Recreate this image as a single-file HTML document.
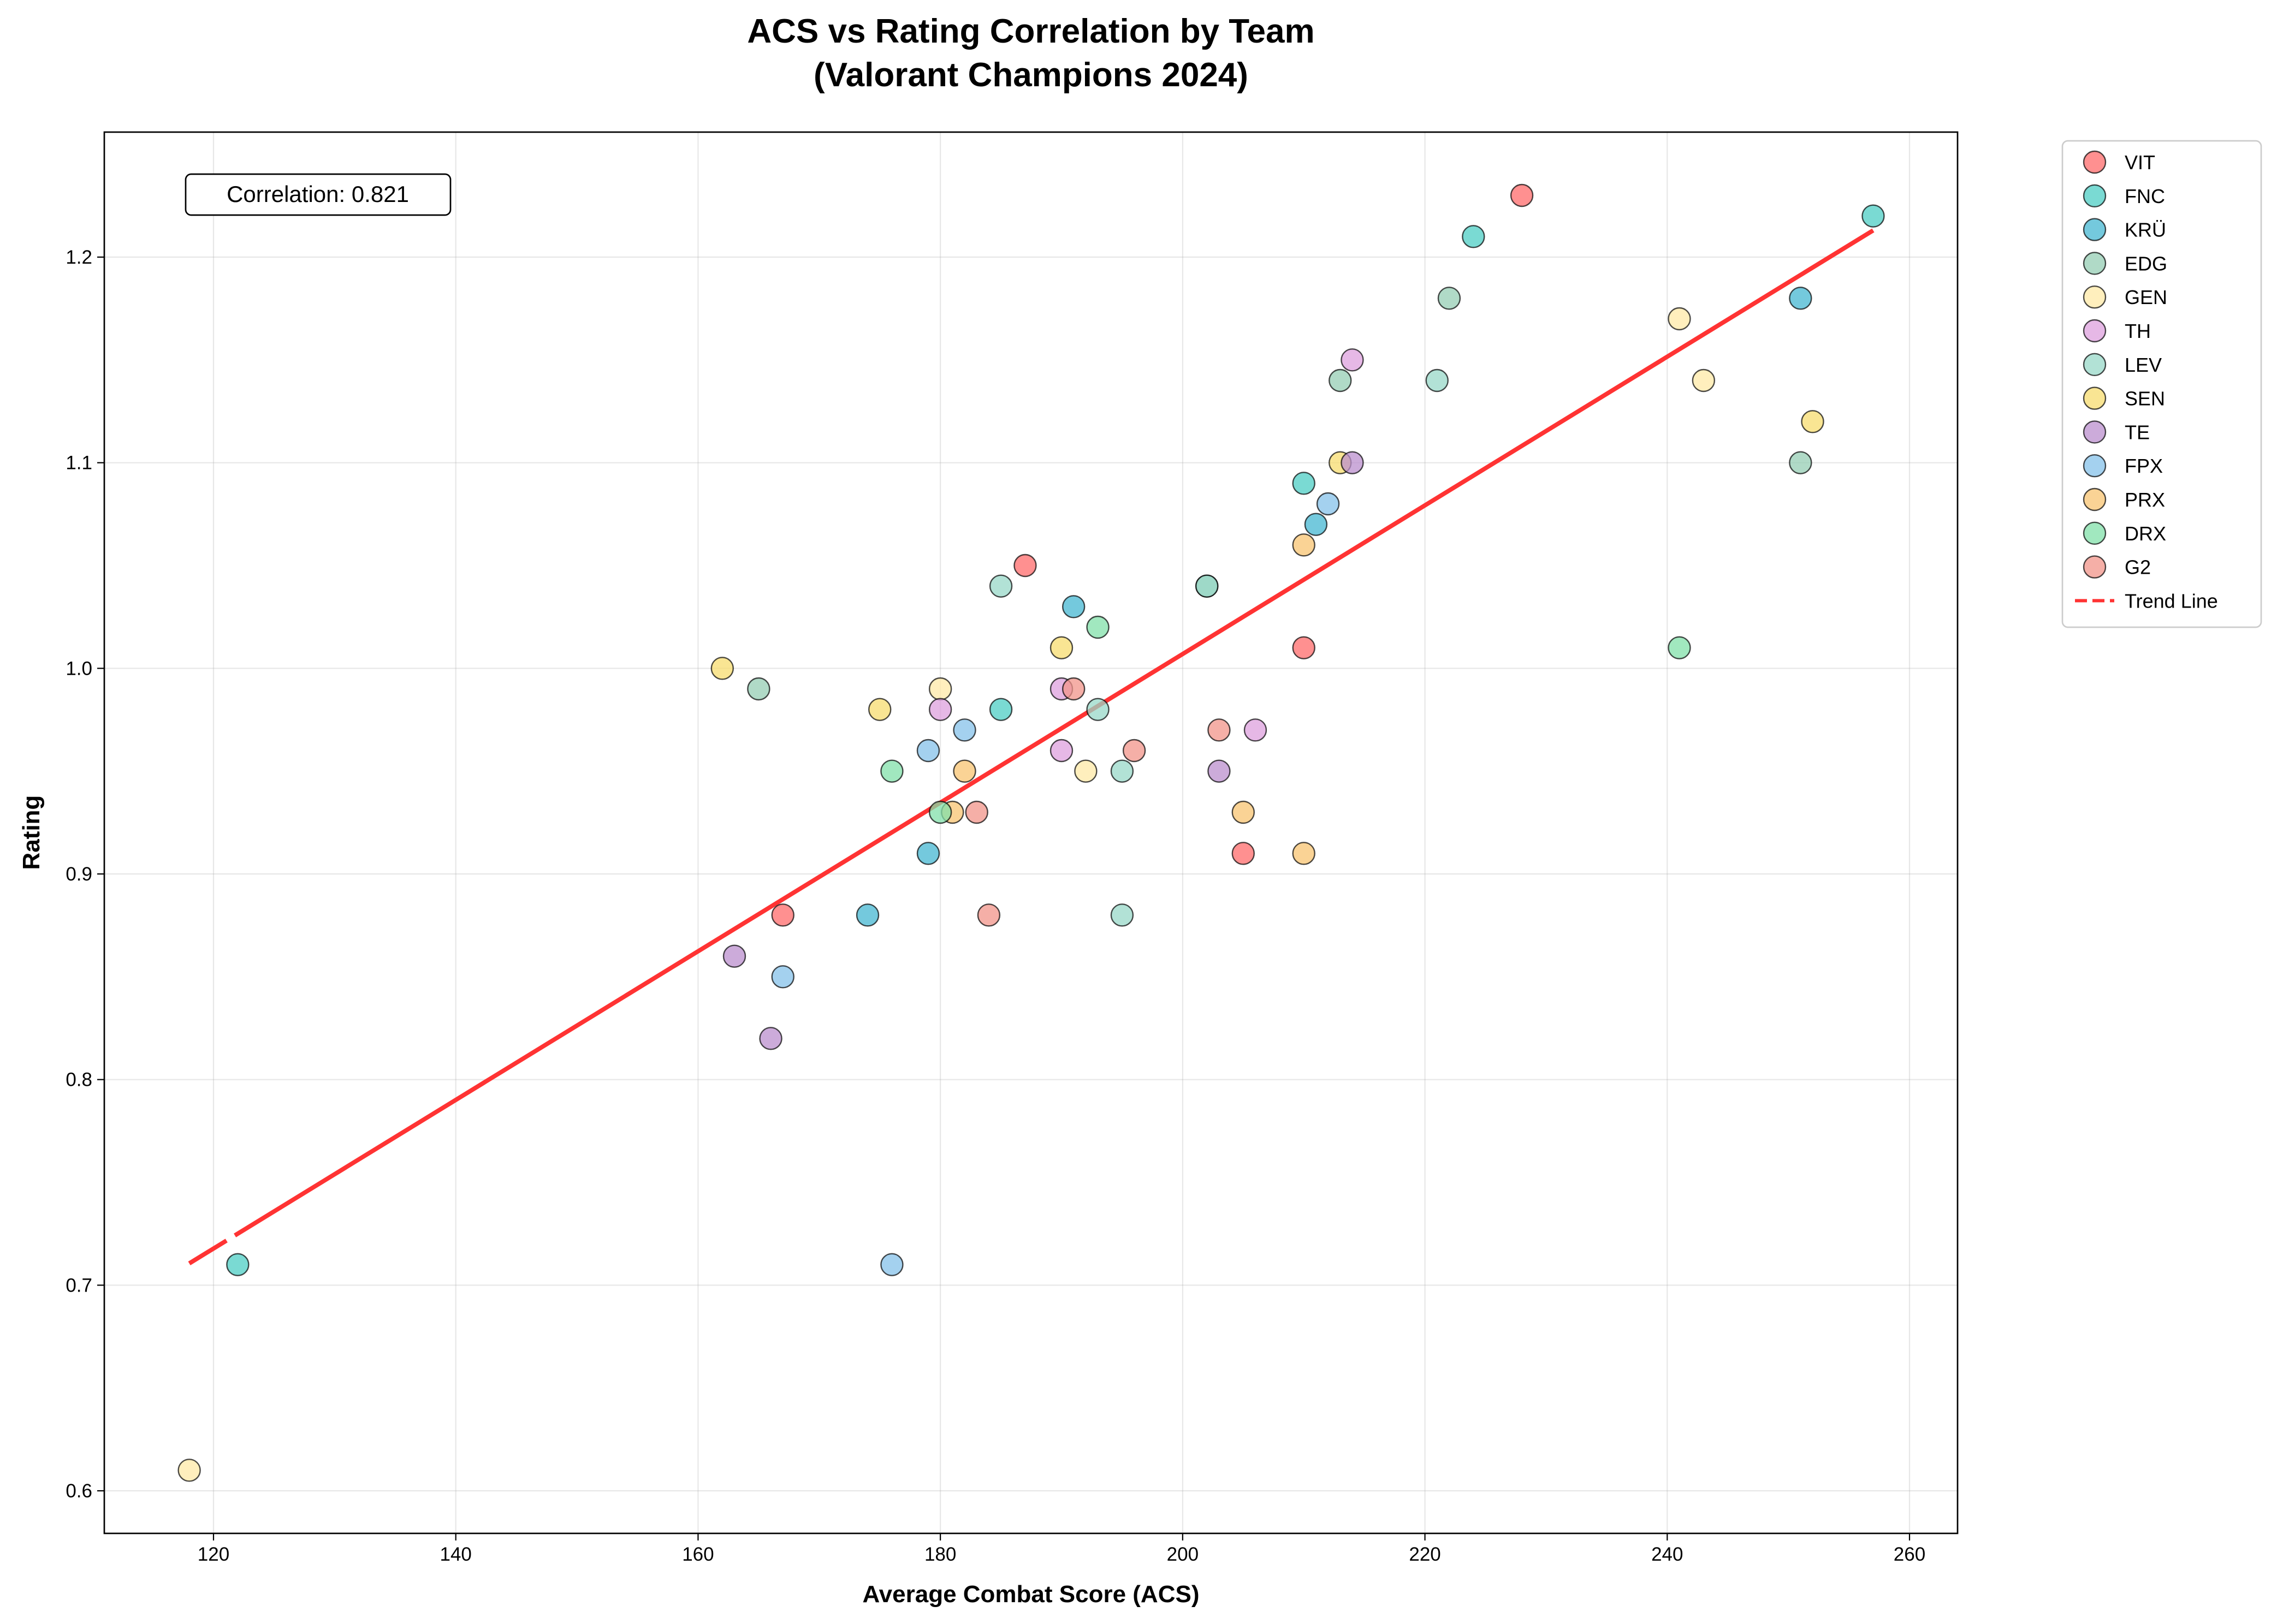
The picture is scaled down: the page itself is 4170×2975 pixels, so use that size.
<!DOCTYPE html>
<html><head><meta charset="utf-8"><style>
html,body{margin:0;padding:0;background:#fff;}
svg{display:block;font-family:"Liberation Sans","DejaVu Sans",sans-serif;}
</style></head><body>
<svg id="chart" width="4170" height="2975" viewBox="0 0 4170 2975" xmlns="http://www.w3.org/2000/svg">
<rect width="4170" height="2975" fill="#fff"/>
<text x="1888" y="78" text-anchor="middle" font-size="62" font-weight="bold">ACS vs Rating Correlation by Team</text>
<text x="1888" y="158" text-anchor="middle" font-size="62" font-weight="bold">(Valorant Champions 2024)</text>
<g id="grid"></g>
<g id="axes"></g>
<g id="trend"></g>
<g id="points"></g>
<rect x="191" y="242" width="3394" height="2567" fill="none" stroke="#000" stroke-width="2.7"/>
<g>
<rect x="340" y="319" width="485" height="75" rx="10" fill="#fff" stroke="#000" stroke-width="2.7"/>
<text x="582" y="370" text-anchor="middle" font-size="42">Correlation: 0.821</text>
</g>
<text x="1888" y="2935" text-anchor="middle" font-size="44" font-weight="bold">Average Combat Score (ACS)</text>
<text x="72" y="1525" text-anchor="middle" font-size="44" font-weight="bold" transform="rotate(-90 72 1525)">Rating</text>
<g id="legend"></g>
</svg>
<script>
const teams = ["VIT","FNC","KRÜ","EDG","GEN","TH","LEV","SEN","TE","FPX","PRX","DRX","G2"];
const teamColors = ["#FF6B6B","#4ECDC4","#45B7D1","#96CEB4","#FFEAA7","#DDA0DD","#98D8C8","#F7DC6F","#BB8FCE","#85C1E9","#F8C471","#82E0AA","#F1948A"];
const acsVIT=[228,187,210,167,205], ratingVIT=[1.23,1.05,1.01,0.88,0.91];
const acsFNC=[257,224,210,185,122], ratingFNC=[1.22,1.21,1.09,0.98,0.71];
const acsKRU=[251,211,191,179,174], ratingKRU=[1.18,1.07,1.03,0.91,0.88];
const acsEDG=[222,213,251,202,165], ratingEDG=[1.18,1.14,1.10,1.04,0.99];
const acsGEN=[241,243,180,192,118], ratingGEN=[1.17,1.14,0.99,0.95,0.61];
const acsTH=[214,180,190,206,190], ratingTH=[1.15,0.98,0.96,0.97,0.99];
const acsLEV=[221,185,193,195,195,202], ratingLEV=[1.14,1.04,0.98,0.95,0.88,1.04];
const acsSEN=[213,252,190,162,175], ratingSEN=[1.10,1.12,1.01,1.00,0.98];
const acsTE=[214,203,163,166], ratingTE=[1.10,0.95,0.86,0.82];
const acsFPX=[212,182,179,167,176], ratingFPX=[1.08,0.97,0.96,0.85,0.71];
const acsPRX=[210,182,181,205,210], ratingPRX=[1.06,0.95,0.93,0.93,0.91];
const acsDRX=[193,241,176,180], ratingDRX=[1.02,1.01,0.95,0.93];
const acsG2=[191,203,196,183,184], ratingG2=[0.99,0.97,0.96,0.93,0.88];
const xTicks=[120,140,160,180,200,220,240,260];
const yTicks=[0.6,0.7,0.8,0.9,1.0,1.1,1.2];

const acsAll=[acsVIT,acsFNC,acsKRU,acsEDG,acsGEN,acsTH,acsLEV,acsSEN,acsTE,acsFPX,acsPRX,acsDRX,acsG2];
const ratAll=[ratingVIT,ratingFNC,ratingKRU,ratingEDG,ratingGEN,ratingTH,ratingLEV,ratingSEN,ratingTE,ratingFPX,ratingPRX,ratingDRX,ratingG2];
const NS="http://www.w3.org/2000/svg";
const L=191,R=3585,T=242,B=2809;
function xs(v){return 391+(v-120)*(3497-391)/140;}
function ys(v){return 471+(1.2-v)*(2731-471)/0.6;}
function mk(tag,attrs,parent){const e=document.createElementNS(NS,tag);for(const k in attrs)e.setAttribute(k,attrs[k]);parent.appendChild(e);return e;}
const grid=document.getElementById('grid'),axes=document.getElementById('axes');
xTicks.forEach(t=>{
  const g=mk('line',{x1:xs(t),x2:xs(t),y1:T,y2:B,stroke:'#b0b0b0','stroke-opacity':0.3,'stroke-width':2.2},grid);
  
  
  const tk=mk('line',{x1:xs(t),x2:xs(t),y1:B,y2:B+13,stroke:'#000','stroke-width':2.2},axes);
  
  
  const tx=mk('text',{x:xs(t),y:B+50,'text-anchor':'middle','font-size':35},axes);
  
  
  tx.textContent=t;
});
yTicks.forEach(t=>{
  const g=mk('line',{x1:L,x2:R,y1:ys(t),y2:ys(t),stroke:'#b0b0b0','stroke-opacity':0.3,'stroke-width':2.2},grid);
  
  
  const tk=mk('line',{x1:L-13,x2:L,y1:ys(t),y2:ys(t),stroke:'#000','stroke-width':2.2},axes);
  
  
  const tx=mk('text',{x:L-22,y:ys(t)+12,'text-anchor':'end','font-size':35},axes);
  
  
  tx.textContent=t.toFixed(1);
});
let X=[],Y=[];acsAll.forEach((a,i)=>a.forEach((v,j)=>{X.push(v);Y.push(ratAll[i][j]);}));
const n=X.length,mx=X.reduce((a,b)=>a+b)/n,my=Y.reduce((a,b)=>a+b)/n;
let sxy=0,sxx=0;for(let i=0;i<n;i++){sxy+=(X[i]-mx)*(Y[i]-my);sxx+=(X[i]-mx)**2;}
const slope=sxy/sxx,icpt=my-slope*mx;
const x0=Math.min(...X),x1=Math.max(...X);
const tl=mk('line',{x1:xs(x0),y1:ys(slope*x0+icpt),x2:xs(x1),y2:ys(slope*x1+icpt),stroke:'#FF3333','stroke-width':8,'stroke-dasharray':'80 18 100000'},document.getElementById('trend'));


const pts=document.getElementById('points');
acsAll.forEach((a,i)=>a.forEach((v,j)=>{
  const c=mk('circle',{cx:xs(v),cy:ys(ratAll[i][j]),r:20,fill:teamColors[i],'fill-opacity':0.75,stroke:'#000','stroke-opacity':0.7,'stroke-width':2.4},pts);
  
  
}));
const lg=document.getElementById('legend');
const box=mk('rect',{x:3777,y:258,width:364,height:891,rx:10,fill:'#fff',stroke:'#ccc','stroke-width':2.7},lg);


teams.forEach((t,i)=>{
  const y=297+i*61.8;
  const c=mk('circle',{cx:3836,cy:y,r:20,fill:teamColors[i],'fill-opacity':0.75,stroke:'#000','stroke-opacity':0.7,'stroke-width':2.4},lg);
  
  
  const tx=mk('text',{x:3891,y:y+13,'font-size':36},lg);
  
  
  tx.textContent=t;
});
const ty=297+13*61.8;
const ll=mk('line',{x1:3800,x2:3872,y1:ty,y2:ty,stroke:'#FF3333','stroke-width':6,'stroke-dasharray':'22 10'},lg);


const lt=mk('text',{x:3891,y:ty+13,'font-size':36},lg);


lt.textContent='Trend Line';
</script>
</body></html>
